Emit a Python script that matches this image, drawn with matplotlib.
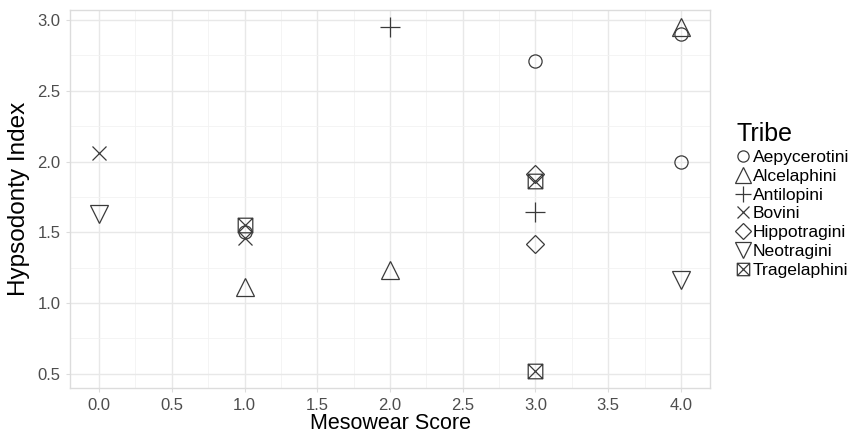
import matplotlib
matplotlib.use("Agg")
import matplotlib.pyplot as plt
from matplotlib.path import Path
from matplotlib.ticker import MultipleLocator

plt.rcParams['font.family'] = ['Liberation Sans', 'DejaVu Sans']

tribes = ["Aepycerotini", "Alcelaphini", "Antilopini", "Bovini",
          "Hippotragini", "Neotragini", "Tragelaphini"]
mesowear = {
    "Aepycerotini": [1.0, 3.0, 4.0, 4.0],
    "Alcelaphini": [1.0, 2.0, 4.0],
    "Antilopini": [2.0, 3.0],
    "Bovini": [0.0, 1.0],
    "Hippotragini": [3.0, 3.0],
    "Neotragini": [0.0, 4.0],
    "Tragelaphini": [1.0, 3.0, 3.0],
}
hypsodonty = {
    "Aepycerotini": [1.50, 2.71, 2.90, 2.00],
    "Alcelaphini": [1.11, 1.23, 2.95],
    "Antilopini": [2.95, 1.64],
    "Bovini": [2.06, 1.46],
    "Hippotragini": [1.91, 1.42],
    "Neotragini": [1.63, 1.16],
    "Tragelaphini": [1.55, 1.86, 0.52],
}

# boxed-X marker (ggplot shape 7)
boxx = Path(
    [(-1, -1), (1, -1), (1, 1), (-1, 1), (-1, -1),
     (-1, -1), (1, 1), (-1, 1), (1, -1)],
    [Path.MOVETO, Path.LINETO, Path.LINETO, Path.LINETO, Path.CLOSEPOLY,
     Path.MOVETO, Path.LINETO, Path.MOVETO, Path.LINETO])

styles = {
    "Aepycerotini": dict(marker='o', ms=9.5),
    "Alcelaphini": dict(marker='^', ms=13),
    "Antilopini": dict(marker='+', ms=14),
    "Bovini": dict(marker='x', ms=10),
    "Hippotragini": dict(marker='D', ms=9),
    "Neotragini": dict(marker='v', ms=13),
    "Tragelaphini": dict(marker=boxx, ms=10.5),
}

col = '#3a3a3a'
fig = plt.figure(figsize=(8.55, 4.32), dpi=100)
ax = fig.add_axes([70/855, 1-388/432, 640/855, 378/432])

for t in tribes:
    st = styles[t]
    ax.plot(mesowear[t], hypsodonty[t], linestyle='none', marker=st['marker'],
            ms=st['ms'], mfc='none', mec=col, mew=0.9, label=t)

ax.set_xlim(-0.2, 4.2)
ax.set_ylim(0.399, 3.071)
ax.xaxis.set_major_locator(MultipleLocator(0.5))
ax.xaxis.set_minor_locator(MultipleLocator(0.25))
ax.yaxis.set_major_locator(MultipleLocator(0.5))
ax.yaxis.set_minor_locator(MultipleLocator(0.25))
ax.grid(which='major', color='#e8e8e8', linewidth=1.0)
ax.grid(which='minor', color='#f2f2f2', linewidth=0.6)
ax.set_axisbelow(True)
for s in ax.spines.values():
    s.set_color('#dcdcdc')
    s.set_linewidth(1.0)
ax.tick_params(which='both', length=0)
ax.tick_params(which='major', length=3, color='#dcdcdc', labelsize=12,
               labelcolor='#4d4d4d', pad=4)
ax.set_xticklabels([f"{v:.1f}" for v in ax.get_xticks()])
ax.set_xlabel("Mesowear Score", fontsize=15.5, labelpad=0)
ax.set_ylabel("Hypsodonty Index", fontsize=17.5, labelpad=5)

leg = fig.legend(loc='center left', bbox_to_anchor=(728/855, 1-200/432),
                 frameon=False, title="Tribe", fontsize=12.6,
                 title_fontsize=18, handlelength=0.7, handletextpad=0.2,
                 labelspacing=0.2, borderpad=0, alignment='left',
                 markerscale=0.85)

fig.savefig("out.png", dpi=100)
